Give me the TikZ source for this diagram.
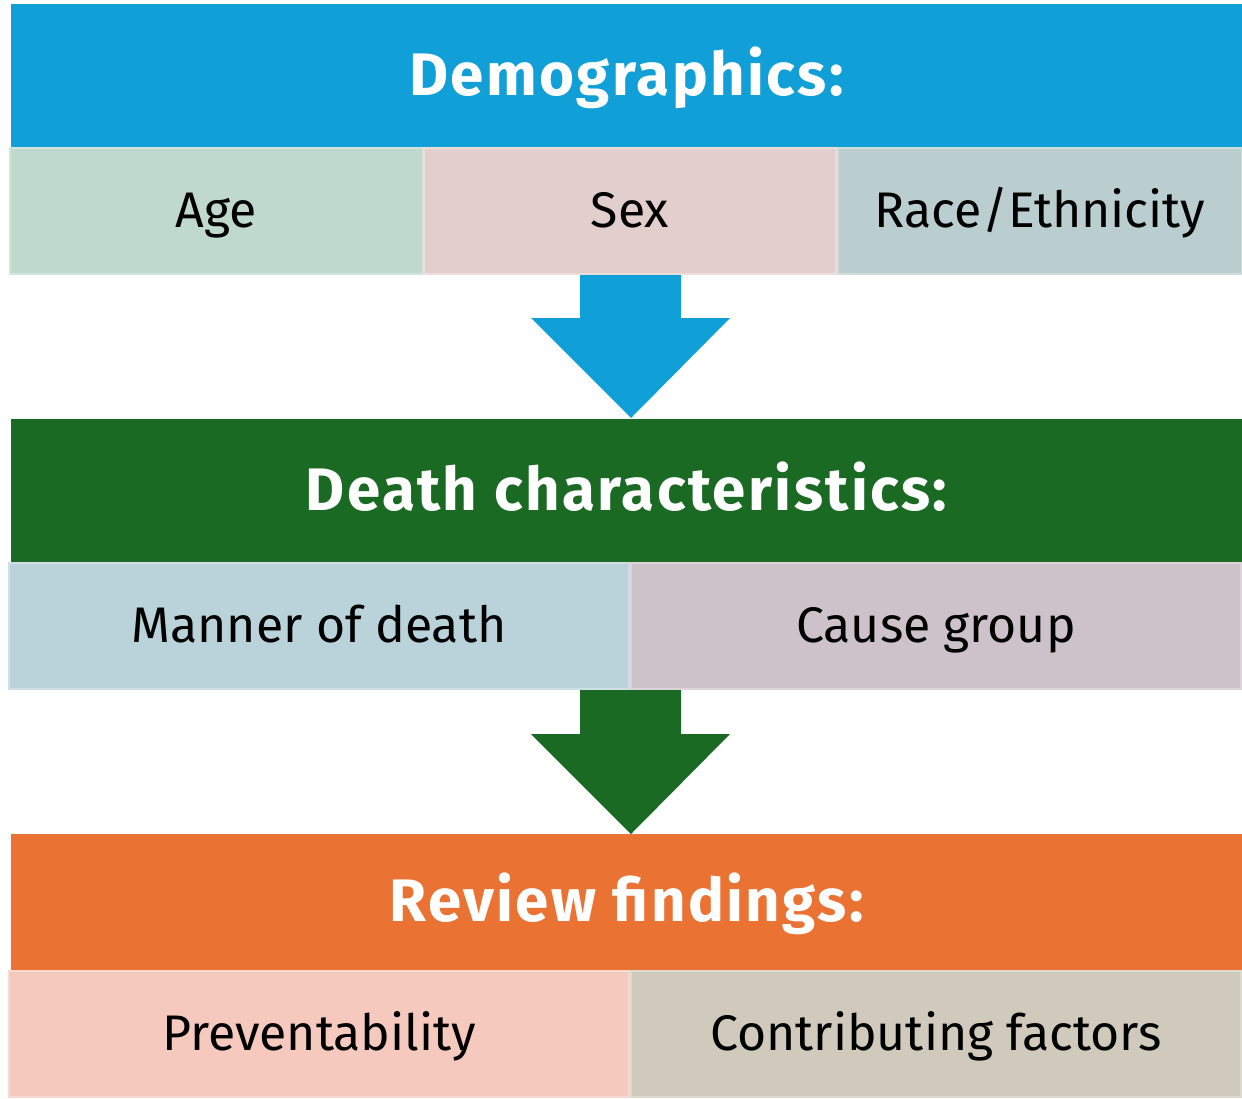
\documentclass[tikz,border=0pt]{standalone}
\usepackage{fontspec}
\setmainfont{Fira Sans}
\newfontfamily\headfont[LetterSpace=4]{Fira Sans}
\definecolor{hblue}{HTML}{109FD6}
\definecolor{hgreen}{HTML}{1B6A24}
\definecolor{horange}{HTML}{EA7233}
\definecolor{cage}{HTML}{BFDACD}
\definecolor{csex}{HTML}{E1CECD}
\definecolor{crace}{HTML}{BACECF}
\definecolor{cmanner}{HTML}{BAD3DA}
\definecolor{ccause}{HTML}{CDC2CA}
\definecolor{cprev}{HTML}{F5C9BD}
\definecolor{ccontr}{HTML}{CFCABB}
\begin{document}
\begin{tikzpicture}[x=1pt,y=-1pt,
  header/.style={fill=#1,draw=none,inner sep=0pt,minimum width=1231pt,
     text=white,font=\headfont\fontsize{60}{64}\selectfont\bfseries,
     text height=42pt,text depth=3pt},
  cell/.style={fill=#1,draw=#1!70!white,line width=2pt,inner sep=0pt,minimum height=126pt,
     font=\fontsize{50}{56}\selectfont,text height=35pt,text depth=2.5pt},
  bigarrow/.style={fill=#1,draw=none}]
\useasboundingbox (0,0) rectangle (1242,1098);
\fill[white] (0,0) rectangle (1242,1098);
% row 1
\node[header=hblue,minimum height=143pt] (demo) at (626.5,75.5) {Demographics:};
\node[cell=cage,minimum width=413pt] (age) at (216,211) {Age};
\node[cell=csex,minimum width=412pt] (sex) at (630,211) {Sex};
\node[cell=crace,minimum width=404pt] (race) at (1040,211) {Race/Ethnicity};
% arrow 1
\fill[hblue] (580,275) -- (681,275) -- (681,318) -- (730,318) -- (631,418) -- (531,318) -- (580,318) -- cycle;
% row 2
\node[header=hgreen,minimum height=143pt] (death) at (626.5,490.5) {Death characteristics:};
\node[cell=cmanner,minimum width=620pt] (manner) at (319,626) {Manner of death};
\node[cell=ccause,minimum width=610pt] (cause) at (936,626) {Cause group};
% arrow 2
\fill[hgreen] (580,690) -- (681,690) -- (681,734) -- (730,734) -- (631,834) -- (531,734) -- (580,734) -- cycle;
% row 3
\node[header=horange,minimum height=136pt] (review) at (626.5,902) {Review findings:};
\node[cell=cprev,minimum width=620pt] (prev) at (319,1034) {Preventability};
\node[cell=ccontr,minimum width=610pt] (contr) at (936,1034) {Contributing factors};
\end{tikzpicture}
\end{document}
